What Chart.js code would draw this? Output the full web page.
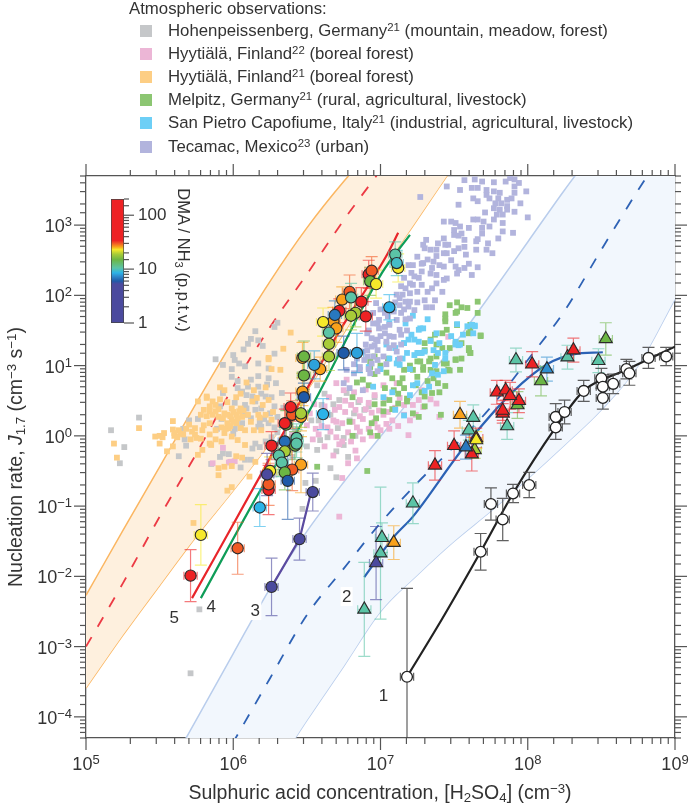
<!DOCTYPE html>
<html>
<head>
<meta charset="utf-8">
<script src="https://cdn.jsdelivr.net/npm/chart.js@4"></script>
<style>
  body { margin: 0; background: #fff; }
  #wrap { position: relative; width: 689px; height: 810px; overflow: hidden; font-family: "Liberation Sans", sans-serif; color: #333; }
  #chart { position: absolute; left: 0; top: 0; }
  #bar { position: absolute; left: 105px; top: 189px; }
  .head { position: absolute; left: 129px; top: -1px; font-size: 16.8px; white-space: nowrap; }
  .row { position: absolute; left: 168px; font-size: 16.8px; white-space: nowrap; line-height: 18px; }
  .swatch { position: absolute; left: 140px; width: 12px; height: 12px; }
  sup { font-size: 68%; line-height: 0; vertical-align: 0.42em; }
  sub { font-size: 68%; line-height: 0; vertical-align: -0.25em; }
  .title { position: absolute; font-size: 19.5px; white-space: nowrap; line-height: 20px; }
  #ytitle { left: 15px; top: 457px; transform: translate(-50%, -50%) rotate(-90deg); }
  #xtitle { left: 380px; top: 792px; transform: translate(-50%, -50%); }
  #bartitle { left: 184px; top: 260px; font-size: 16.5px; transform: translate(-50%, -50%) rotate(90deg); }
</style>
</head>
<body>
<div id="wrap">
  <canvas id="chart" width="689" height="810"></canvas>
  <canvas id="bar" width="90" height="145"></canvas>
  <div class="head">Atmospheric observations:</div>
  <div class="title" id="ytitle">Nucleation rate, <i>J</i><sub>1.7</sub> (cm<sup>−3</sup> s<sup>−1</sup>)</div>
  <div class="title" id="xtitle">Sulphuric acid concentration, [H<sub>2</sub>SO<sub>4</sub>] (cm<sup>−3</sup>)</div>
  <div class="title" id="bartitle">DMA / NH<sub>3</sub> (p.p.t.v.)</div>
</div>
<script>
const siteNames = ["Hohenpeissenberg, Germany", "Hyytiälä, Finland", "Hyytiälä, Finland", "Melpitz, Germany", "San Pietro Capofiume, Italy", "Tecamac, Mexico"];
const siteRefs = ["21", "22", "21", "21", "21", "23"];
const siteNotes = ["(mountain, meadow, forest)", "(boreal forest)", "(boreal forest)", "(rural, agricultural, livestock)", "(industrial, agricultural, livestock)", "(urban)"];
const siteColors = ["#c5c7c9", "#ecb6d6", "#fdce84", "#8cc672", "#6dcff6", "#b2b4dd"];
const legendRows = [31, 53.5, 76.5, 100, 123, 147];

const hohenX = [6.15,6.10,6.07,6.17,6.20,6.17,6.00,6.01,6.04,6.08,5.99,5.88,5.93,5.99,6.03,6.17,6.24,6.28,6.24,6.23,6.29,6.33,6.17,6.03,6.06,6.09,5.93,6.13,6.22,6.15,6.08,6.09,6.01,5.91,6.19,6.28,6.15,6.25,6.30,6.18,6.08,5.92,5.76,5.70,5.66,5.89,6.01,6.05,6.00,6.17,6.19,5.67,5.68,5.63,5.91,5.93,5.97,5.85,6.08,6.12,6.05,6.13,6.15,5.17,5.36,5.26,5.23,6.30,6.28,6.12,6.57,6.47,6.66,6.56,6.49,6.70,6.75,6.75,6.59,6.83,6.72,6.77,6.66,6.60,6.53,6.79,6.71,6.49,6.57,6.45,6.89,6.85,5.77,5.71,6.12,6.19,6.26,6.21,6.24,6.28,6.30,6.26,6.22,6.18,6.10,6.12,6.06,6.34,6.38,6.42,6.36,6.40,6.50,6.62,6.68,6.58,6.64,6.70,6.78,6.82,6.92,6.96,6.30,6.28];
const hohenY = [1.49,1.31,1.23,1.36,1.28,1.03,1.15,1.08,1.03,.99,.95,1.09,1.01,.84,.78,.85,.96,1.17,.82,.73,.75,.61,.70,.68,.63,.58,.61,.56,.56,.49,.44,.39,.47,.42,.39,.42,.37,.32,.27,.20,.30,.24,.24,.22,.10,.10,.10,.11,.03,.13,.13,-.05,-.14,-.29,-.30,-.25,-.26,-.40,-.34,-.34,-.45,-.18,-.11,.08,.26,-.16,-.39,1.61,1.55,1.38,-.20,-1.04,-.46,-.64,-.67,-.59,-.13,-.03,-.06,0,.51,.61,.30,.44,.22,.22,.11,.58,.72,.37,.37,.48,-2.47,-3.38,.80,.60,.55,.24,.18,.12,.05,-.02,-.08,-.16,.70,.25,.18,.40,.25,.10,-.12,-.30,-.15,.60,.45,.22,-.02,-.22,-.30,.32,.42,.55,-.25,-.55];

const pinkX = [6.72,6.74,6.78,6.83,6.86,5.86,5.98,6.01,5.93,5.97,5.99,7.19,7.04,7.40,7.38,7.22,7.28,7.46,7.29,7.26,7.13,7.11,7.02,6.70,6.77,6.75,6.86,6.83,6.92,6.94,6.72,6.69,6.55,6.60,6.50,6.64,6.68,6.74,6.78,6.81,6.88,6.92,6.96,6.99,7.00,7.05,7.08,7.10,6.62,6.68,6.72,6.80,6.88,6.70,6.58,6.65,6.82,6.90,6.96,7.03,7.16,7.20,6.52,6.56,6.62,6.66,6.70,6.76,6.80,6.84,6.86,6.90,6.94,6.98,7.02,7.06,7.12,7.16,7.24,6.74,6.84,6.76,6.60,6.54,6.46,6.40,7.34];
const pinkY = [-1.15,-.60,-.39,-.21,.06,-.39,-.37,-.36,-.17,-.38,-.37,.01,.17,.27,.46,.44,.65,1.41,.41,.51,.54,.75,.72,.75,.80,.65,.51,.37,.47,.33,.41,.37,.45,.30,.15,.12,.22,.18,.05,.20,.24,.10,.20,.36,.08,.34,.22,.40,-.15,-.28,-.12,-.08,-.05,-.02,.02,.55,.62,.66,.58,.52,.30,.22,.32,.10,.42,.06,.20,.34,.44,.12,.28,.38,0,.12,.30,.10,.14,.44,.30,-.08,-.32,.50,.14,-.05,.24,.02,.52];

const hyytX = [5.59,5.36,5.19,5.21,5.47,5.50,5.52,5.53,5.50,5.59,5.63,5.60,5.60,5.64,5.55,5.59,5.70,5.74,5.71,5.75,5.80,5.79,5.80,5.76,5.82,5.84,5.86,5.91,5.91,5.94,5.84,5.88,5.90,5.94,5.99,6.02,6.06,5.99,5.96,6.02,5.97,6.05,5.94,5.99,6.03,6.08,5.84,5.85,5.79,5.76,5.88,5.84,5.90,5.94,5.99,6.02,6.06,5.90,6.15,6.11,6.24,6.26,6.09,6.14,6.22,6.32,6.13,6.16,6.24,6.05,6.10,6.17,6.22,6.26,6.19,6.14,6.08,5.73,5.99,5.96,6.39,6.34,6.24,5.82,5.82,5.86,5.90,5.93,5.96,5.98,6.00,6.03,6.04,6.07,5.92,5.95,5.98,6.00,5.78,5.72,5.74,5.78,5.68,5.66,5.62,5.84,5.88,5.92,6.12,6.18,6.20,6.27,6.02,6.05,5.96,5.88];
const hyytY = [.21,.11,-.11,-.31,-.01,0,-.02,.04,-.11,.09,.08,.04,0,.03,-.22,-.15,.16,.11,-.05,-.03,.37,.08,.15,.49,.54,.42,.49,.52,.69,.65,.35,.35,.27,.32,.39,.30,.27,.23,.18,.18,.11,.11,.04,-.01,-.06,-.13,-.11,-.13,-.20,-.27,.08,.18,-.46,-.44,-.43,-.29,-.31,-.56,-.37,-.58,1.09,.95,.76,.65,.69,.94,.49,.54,.51,.39,.30,.30,.30,.23,.08,.08,.08,-1.24,-.73,-.78,1.47,1.24,1.11,.56,.28,.30,.38,.25,.30,.28,.34,.25,.35,.36,.12,.10,.14,.20,.30,.06,.02,-.04,.10,.02,-.02,.02,-.05,-.08,.20,.26,.44,.34,.55,.60,.48,.44];

const melpitzX = [7.47,7.52,7.55,7.59,7.66,7.66,7.52,7.44,7.44,7.51,7.52,7.45,7.62,7.61,7.68,7.42,7.37,7.34,7.30,7.51,7.55,7.61,7.60,7.51,7.45,7.25,7.34,7.29,6.96,6.93,7.05,7.61,7.60,7.68,7.60,7.61,7.52,7.44,7.51,7.54,7.47,7.38,7.33,7.27,7.29,7.34,7.38,7.43,7.46,7.39,7.44,7.35,7.30,7.25,7.22,7.16,7.13,7.09,7.18,7.03,7.02,7.22,7.26,7.41,7.30,7.06,7.12,7.18,6.93,6.84,6.81,6.79,6.94,6.97,6.81,6.93,6.91,6.57,6.98,6.88,6.92,6.96,7.00,7.04,7.08,7.15,7.20,7.24,7.28,7.32,7.36,7.40,7.12,7.16,7.02,7.08,6.96,7.42,7.47,7.55,7.30,7.26,7.38];
const melpitzY = [1.86,1.90,1.83,1.82,1.91,1.75,1.77,1.73,1.67,1.75,1.58,1.51,1.58,1.51,1.43,1.46,1.44,1.37,1.32,1.32,1.32,1.18,1.25,1.08,1.03,1.06,1.10,.98,1.13,1.06,1.10,1.58,1.46,1.42,1.22,1.18,1.58,1.63,1.09,.94,.93,1.13,1.06,1.06,.94,.94,.92,1.03,.94,.75,.71,.61,.56,.84,.94,.94,.75,.65,.53,.68,.46,.32,.27,.30,.42,.51,.46,.49,.98,.76,.55,.20,.18,.25,0,.05,-.50,-.44,0,.80,.72,.88,1.00,.90,.82,.82,1.00,.72,.62,.78,.82,.62,.60,.68,.35,.38,.45,1.25,1.25,1.10,1.22,1.18,1.30];

const italyX = [7.22,7.32,7.17,7.27,7.21,7.23,7.16,7.18,7.25,7.28,7.38,7.51,7.53,7.59,7.64,7.63,7.52,7.36,7.39,7.44,7.06,7.12,7.13,6.92,7.37,7.26,7.29,7.16,7.19,7.27,7.23,7.12,7.06,7.11,7.54,7.51,7.62,7.64,7.44,7.25,7.30,7.35,7.43,7.10,7.16,7.22,7.33,7.39,7.26,6.95,7.00,7.04,7.10,7.15,7.20,7.30,7.34,7.40,7.02,7.08,7.20,7.48,7.56];
const italyY = [1.71,1.66,1.60,1.53,1.44,1.37,1.32,1.18,1.18,1.18,1.46,1.34,1.29,1.56,1.57,1.46,1.59,1.22,1.18,1.10,1.10,1.08,1.01,.98,1.01,1.51,1.53,1.32,1.37,1.18,1.15,1.08,1.60,1.03,1.30,1.30,1.58,1.56,1.18,.75,.64,.89,.92,.37,.29,.72,.70,.87,1.34,.70,.95,1.30,1.25,1.10,.95,1.20,1.35,1.32,.55,.62,.58,1.42,1.44];

const tecamacX = [7.57,7.64,7.69,7.62,7.66,7.54,7.63,7.66,7.53,7.27,7.45,7.77,7.85,7.88,7.91,7.94,7.91,7.99,7.91,7.72,7.77,7.81,7.72,7.74,7.80,7.86,7.89,7.95,7.78,7.82,7.86,7.77,7.81,7.86,7.91,7.71,7.79,7.83,7.83,8.00,7.66,7.70,7.77,7.63,7.74,7.83,7.90,7.69,7.80,7.43,7.48,7.51,7.54,7.60,7.50,7.55,7.50,7.53,7.69,7.66,7.57,7.65,7.73,7.31,7.29,7.43,7.39,7.44,7.46,7.38,7.34,7.30,7.57,7.53,7.50,7.45,7.43,7.38,7.65,7.72,7.76,7.58,7.25,7.32,7.29,7.22,7.19,7.43,7.40,7.35,7.28,7.34,7.38,7.38,7.45,7.43,7.51,7.53,7.57,7.66,7.52,7.62,7.21,7.23,7.20,7.22,7.17,7.25,7.20,7.15,7.11,7.17,7.20,7.13,7.19,7.23,7.30,7.37,7.31,7.35,7.09,7.14,6.99,7.05,7.11,7.20,7.06,7.13,6.99,7.03,6.94,7.09,7.14,6.96,7.04,7.09,6.98,6.91,6.89,6.86,6.94,7.02,7.11,7.13,6.95,6.97,6.95,6.98,6.91,6.97,6.94,6.91,6.98,6.86,6.93,6.77,6.82,6.75,6.79,6.88,6.92,6.95,7.00,7.03,7.06,7.10,7.13,7.16,7.00,7.03,7.06,6.98,6.90,6.88,6.84,6.82,6.92,6.98,7.04,7.06,7.14,7.18,7.17,7.25,7.28,7.26,7.16,7.14,7.28,7.36,7.48,7.60,7.35,7.42,7.32];
const tecamacY = [3.64,3.65,3.62,3.53,3.53,3.50,3.38,3.34,3.29,3.40,3.55,3.61,3.62,3.67,3.65,3.60,3.55,3.48,3.46,3.50,3.48,3.46,3.43,3.38,3.38,3.36,3.38,3.31,3.31,3.31,3.27,3.24,3.22,3.22,3.19,3.18,3.15,3.15,3.03,3.11,3.08,3.05,3.08,3.08,2.98,2.91,2.89,2.96,2.81,3.05,3.05,3.03,2.98,2.96,2.93,2.88,2.86,2.85,2.88,2.80,2.79,2.77,2.74,2.79,2.72,2.81,2.74,2.72,2.72,2.65,2.65,2.67,2.69,2.67,2.63,2.60,2.60,2.56,2.65,2.65,2.60,2.58,2.55,2.51,2.46,2.43,2.43,2.41,2.43,2.39,2.34,2.31,2.29,2.17,2.24,2.22,2.41,2.36,2.39,2.40,2.31,2.29,2.32,2.27,2.17,2.15,2.10,2.05,2.03,2.01,2.01,1.91,1.91,1.86,1.84,1.79,1.93,1.93,1.83,1.83,1.77,1.75,1.65,1.70,1.65,1.67,1.58,1.51,1.53,1.46,1.39,1.41,1.44,1.29,1.34,1.29,1.22,1.22,1.08,.98,1.03,1.13,1.20,1.10,1.13,1.89,1.75,1.60,1.46,1.37,1.27,1.13,1.08,.94,.89,.94,.89,.75,.68,.65,1.50,1.60,1.80,1.75,1.84,1.90,1.96,1.80,1.42,1.55,1.42,1.35,1.30,1.20,1.10,1.02,.95,.92,1.02,1.25,1.30,1.50,1.66,1.90,2.15,2.25,2.25,2.13,2.45,2.48,2.50,2.45,2.10,2.05,2.05];

// shaded ranges around the two parametrisations, and the fitted curves
const orangeBandX = [5,5.25,5.5,5.75,6,6.25,6.5,6.75,7,7.25,7.5,7.6];
const orangeUpper = [-2.27,-1.35,-.44,.47,1.36,2.20,2.96,3.62,4.2,4.75,5.25,5.45];
const orangeLower = [-3.59,-2.84,-2.13,-1.43,-.78,-.10,.64,1.46,2.30,3.08,3.85,4.16];
const redDashX = [5,5.25,5.5,5.75,6,6.25,6.5,6.75,7];
const redDashY = [-3.0,-2.10,-1.15,-.25,.70,1.55,2.30,3.07,3.78];

const blueBandX = [5.6,5.68,6,6.25,6.5,6.75,7,7.25,7.5,7.75,8,8.25,8.5,8.75,9];
const blueUpper = [-4.6,-4.30,-3.10,-2.17,-1.36,-.66,-.01,.64,1.30,2.02,2.76,3.5,4.2,4.9,5.6];
const blueLower = [-6.8,-6.5,-5.6,-4.85,-4.05,-3.28,-2.5,-1.98,-1.5,-1.07,-.61,-.13,.37,1.0,1.95];
const blueDashY = [-5.8,-5.5,-4.36,-3.45,-2.55,-1.89,-1.24,-.67,-.15,.41,1.08,1.78,2.65,3.50,4.3];

const line1X = [7.18,7.42,7.68,7.90,8.19,8.38,8.67,9];
const line1Y = [-3.43,-2.60,-1.65,-.82,.12,.64,.94,1.27];
const line2X = [6.89,7.09,7.22,7.56,7.90,8.14,8.31,8.51];
const line2Y = [-2.01,-1.44,-1.15,-.18,.63,1.03,1.16,1.19];
const line3X = [6.26,6.45,6.53];
const line3Y = [-2.15,-1.47,-.79];
const line4X = [5.78,6.18,6.52,7.01,7.20];
const line4Y = [-2.31,-.79,.37,2.32,2.86];
const line5X = [5.72,6.18,6.69,7.05,7.12];
const line5Y = [-2.31,-.58,1.38,2.60,2.89];

// chamber runs, circles: with ammonia and dimethylamine
const circleX = [7.12,7.10,7.11,6.92,6.94,6.93,6.97,6.74,6.79,6.80,6.87,6.72,6.68,6.70,6.69,6.61,6.83,6.80,6.90,7.06,6.65,6.65,6.65,6.75,6.84,6.47,6.48,6.59,6.55,6.48,6.47,6.48,6.40,6.39,6.46,6.46,6.61,6.36,6.35,6.26,6.42,6.43,6.43,6.35,6.35,6.31,6.33,6.46,6.40,6.35,6.25,6.24,6.24,6.23,6.37,6.54,6.18,5.78,5.71,6.03,6.26,6.45];
const circleY = [2.39,2.58,2.46,2.30,2.35,2.20,2.16,1.94,2.05,1.97,1.91,1.78,1.63,1.53,1.72,1.62,1.75,1.71,1.70,1.83,1.47,1.31,1.13,1.18,1.18,1.11,1.13,.95,1.01,.86,.63,.55,.30,.41,.27,.32,.31,.16,.18,-.14,-.14,-.03,-.11,-.08,-.22,-.28,-.38,-.41,-.48,-.52,-.50,-.77,-.69,-.55,-.64,-.80,-1.02,-1.41,-1.99,-1.60,-2.15,-1.47];
const circleDma = [23,10.5,9.5,60,30,15,23,26,30,10.5,60,60,26,26,6.8,23,19,19,60,8.5,10.5,19,19,6,8,26,15,26,8,15,26,6,30,60,26,19,8.5,15,60,60,15,10.5,10.5,6.5,19,10.5,10.5,26,30,15,23,60,30,2,6,2,8.5,23,60,30,2,2];
const circleErr = [.20,.18,.18,.2,.2,.2,.2,.18,.24,.2,.2,.17,.2,.2,.2,.2,.2,.2,.21,.18,.2,.2,.2,.24,.28,.22,.22,.17,.2,.2,.2,.2,.2,.2,.2,.2,.22,.2,.2,.2,.2,.2,.2,.2,.2,.2,.2,.4,.3,.25,.2,.35,.3,.3,.55,.27,.27,.43,.37,.37,.41,.30];

// triangles: with ammonia
const triX = [8.53,8.27,8.31,8.48,7.92,8.03,8.13,8.09,7.79,7.85,7.93,7.94,7.88,7.83,7.83,7.86,7.54,7.63,7.60,7.64,7.65,7.65,7.50,7.62,7.58,7.37,7.22,7.09,7.01,7.00,6.97,6.89];
const triY = [1.38,1.12,1.22,1.07,1.08,1.02,.95,.78,.62,.65,.44,.50,.57,.32,.36,.14,.30,.26,.08,-.20,-.03,-.06,-.14,-.26,-.16,-.42,-.96,-1.52,-1.45,-1.67,-1.81,-2.47];
const triDma = [15,10.5,60,10.5,10.5,60,7.5,15,60,60,15,60,60,60,60,10.5,26,10.5,10.5,19,60,23,60,60,6.8,60,10.5,26,10.5,10.5,2,10.5];
const triErr = [.23,.17,.17,.17,.17,.18,.17,.21,.17,.14,.19,.17,.19,.14,.14,.19,.19,.18,.14,.12,.14,.12,.21,.24,.17,.21,.29,.24,.21,.94,.52,.67];

// white circles: sulphuric acid and water only
const whiteX = [7.18,7.68,7.83,7.75,7.90,8.01,8.19,8.19,8.25,8.38,8.50,8.51,8.51,8.58,8.67,8.69,8.82,8.94];
const whiteY = [-3.43,-1.65,-1.19,-.97,-.82,-.70,.12,.27,.34,.64,.82,.70,.54,.74,.95,.89,1.11,1.13];
const whiteErrUp = [1.26,.26,.30,.23,.13,.18,.17,.19,.17,.15,.14,.17,.16,.14,.14,.17,.15,.13];
const whiteErrDown = [3,.26,.30,.23,.13,.18,.17,.19,.17,.15,.14,.17,.16,.14,.14,.17,.15,.13];

const seriesNumbers = ["1","2","3","4","5"];
const numberX = [7.02,6.77,6.15,5.85,5.60];
const numberY = [-3.69,-2.28,-2.48,-2.42,-2.58];

// colour bar
const dmaStops = [1,5.3,6,7.5,8.5,10.5,15,19,23,26,30,34,200];
const dmaColors = ["#4b4a9e","#4b4a9e","#1f5aa8","#2f8fd0","#2bb3e8","#5bc4a6","#6cb644","#a8cc38","#f6e92a","#f9a11b","#f15a24","#ed2224","#ed2224"];

const pts = (xs, ys) => xs.map((v, i) => ({ x: 10 ** v, y: 10 ** ys[i] }));

function dmaColor(v) {
  let i = 0;
  while (i < dmaStops.length - 2 && v > dmaStops[i + 1]) i++;
  const f = (Math.log(v) - Math.log(dmaStops[i])) / (Math.log(dmaStops[i + 1]) - Math.log(dmaStops[i]));
  const hex = (c) => [1, 3, 5].map((k) => parseInt(c.substr(k, 2), 16));
  const a = hex(dmaColors[i]), b = hex(dmaColors[i + 1]);
  const m = a.map((c, k) => Math.round(c + (b[k] - c) * Math.min(1, Math.max(0, f))));
  return `rgb(${m[0]},${m[1]},${m[2]})`;
}

// html legend, the superscripts don't work in the built-in one
const wrap = document.getElementById("wrap");
siteNames.forEach((name, i) => {
  const sw = document.createElement("div");
  sw.className = "swatch";
  sw.style.top = legendRows[i] - 6 + "px";
  sw.style.background = siteColors[i];
  wrap.appendChild(sw);
  const row = document.createElement("div");
  row.className = "row";
  row.style.top = legendRows[i] - 9 + "px";
  row.innerHTML = `${name}<sup>${siteRefs[i]}</sup> ${siteNotes[i]}`;
  wrap.appendChild(row);
});

const axisColor = "#555";
const textColor = "#333";
const family = "'Liberation Sans', sans-serif";
const isDecade = (v) => Math.abs(Math.log10(v) - Math.round(Math.log10(v))) < 1e-9;

// chart.js has one tick length per axis, here decades are long and the rest short
const tickMarks = {
  id: "tickMarks",
  afterDraw(chart) {
    const { ctx } = chart;
    const lengths = chart.options.plugins.tickMarks;
    ctx.save();
    ctx.strokeStyle = axisColor;
    ctx.lineWidth = 1.2;
    Object.values(chart.scales).forEach((s) => {
      if (s.type !== "logarithmic") return;
      s.ticks.forEach((t) => {
        const p = s.getPixelForValue(t.value);
        const n = isDecade(t.value) ? lengths.major : lengths.minor;
        ctx.beginPath();
        if (s.position === "left") { ctx.moveTo(s.right, p); ctx.lineTo(s.right - n, p); }
        if (s.position === "right") { ctx.moveTo(s.left, p); ctx.lineTo(s.left + n, p); }
        if (s.position === "top") { ctx.moveTo(p, s.bottom); ctx.lineTo(p, s.bottom - n); }
        if (s.position === "bottom") { ctx.moveTo(p, s.top); ctx.lineTo(p, s.top + n); }
        ctx.stroke();
      });
    });
    ctx.restore();
  },
};

// 10 with a raised exponent, tick callbacks can only give one font size
const powerLabels = {
  id: "powerLabels",
  afterDraw(chart) {
    const { ctx, scales: { x, y } } = chart;
    const big = `18px ${family}`, small = `13px ${family}`;
    ctx.save();
    ctx.fillStyle = textColor;
    ctx.textBaseline = "alphabetic";
    ctx.textAlign = "left";
    x.ticks.filter((t) => isDecade(t.value)).forEach((t) => {
      const e = String(Math.round(Math.log10(t.value)));
      ctx.font = big;
      const w = ctx.measureText("10").width;
      ctx.font = small;
      const we = ctx.measureText(e).width;
      const left = x.getPixelForValue(t.value) - (w + we) / 2;
      ctx.font = big;
      ctx.fillText("10", left, 770);
      ctx.font = small;
      ctx.fillText(e, left + w, 764);
    });
    y.ticks.filter((t) => isDecade(t.value)).forEach((t) => {
      const e = String(Math.round(Math.log10(t.value))).replace("-", "−");
      const p = y.getPixelForValue(t.value);
      ctx.font = small;
      const we = ctx.measureText(e).width;
      ctx.fillText(e, 72 - we, p + 1);
      ctx.font = big;
      ctx.fillText("10", 72 - we - ctx.measureText("10").width, p + 7);
    });
    ctx.restore();
  },
};

const errorBars = {
  id: "errorBars",
  beforeDatasetDraw(chart, { index }) {
    const ds = chart.data.datasets[index];
    if (!ds.errUp) return;
    const { ctx, chartArea: a, scales: { x, y } } = chart;
    ctx.save();
    ctx.beginPath();
    ctx.rect(a.left, a.top, a.right - a.left, a.bottom - a.top);
    ctx.clip();
    ctx.globalAlpha = ds.errAlpha;
    ctx.lineWidth = 1.2;
    ds.data.forEach((p, i) => {
      const px = x.getPixelForValue(p.x), py = y.getPixelForValue(p.y);
      const top = y.getPixelForValue(p.y * 10 ** ds.errUp[i]);
      const bot = y.getPixelForValue(p.y / 10 ** ds.errDown[i]);
      const l = x.getPixelForValue(p.x / 10 ** ds.errX);
      const r = x.getPixelForValue(p.x * 10 ** ds.errX);
      ctx.strokeStyle = ds.errColor ? ds.errColor : ds.pointBackgroundColor[i];
      ctx.beginPath();
      ctx.moveTo(px, top); ctx.lineTo(px, bot);
      ctx.moveTo(px - 6, top); ctx.lineTo(px + 6, top);
      ctx.moveTo(px - 6, bot); ctx.lineTo(px + 6, bot);
      ctx.moveTo(l, py); ctx.lineTo(r, py);
      ctx.moveTo(l, py - 4); ctx.lineTo(l, py + 4);
      ctx.moveTo(r, py - 4); ctx.lineTo(r, py + 4);
      ctx.stroke();
    });
    ctx.restore();
  },
};

const seriesLabels = {
  id: "seriesLabels",
  afterDatasetsDraw(chart) {
    const { ctx, scales: { x, y } } = chart;
    ctx.save();
    ctx.font = `17px ${family}`;
    ctx.textAlign = "center";
    ctx.textBaseline = "middle";
    seriesNumbers.forEach((n, i) => {
      const px = x.getPixelForValue(10 ** numberX[i]), py = y.getPixelForValue(10 ** numberY[i]);
      ctx.fillStyle = "#fff";
      ctx.fillRect(px - 6, py - 9, 12, 19);
      ctx.fillStyle = textColor;
      ctx.fillText(n, px, py + 1);
    });
    ctx.restore();
  },
};

const squares = (xs, ys, color, order) => ({
  data: pts(xs, ys), order, showLine: false, pointStyle: "rect", pointRadius: 4.1,
  pointBackgroundColor: color, pointBorderColor: color, pointBorderWidth: 0,
});
const curve = (xs, ys, color, width, order, extra) => Object.assign({
  data: pts(xs, ys), order, showLine: true, pointRadius: 0, borderColor: color, borderWidth: width,
  cubicInterpolationMode: "monotone", fill: false,
}, extra);
const markers = (xs, ys, dma, err, style, radius, order) => ({
  data: pts(xs, ys), order, showLine: false, pointStyle: style, pointRadius: radius,
  pointBackgroundColor: dma.map(dmaColor), pointBorderColor: "#2b2b2b", pointBorderWidth: 1.1,
  errUp: err, errDown: err, errX: 0.045, errAlpha: 0.6,
});

const datasets = [
  curve(orangeBandX, orangeUpper, "#fbb661", 1.5, 30, { fill: "+1", backgroundColor: "#fef0de" }),
  curve(orangeBandX, orangeLower, "#fbb661", 1.5, 30),
  curve(blueBandX, blueUpper, "#b9cdec", 1.5, 30, { fill: "+1", backgroundColor: "#f2f7fd" }),
  curve(blueBandX, blueLower, "#b9cdec", 1.5, 30),
  curve(redDashX, redDashY, "#ec3a44", 1.8, 29, { borderDash: [11, 12] }),
  curve(blueBandX, blueDashY, "#2e62b5", 1.8, 29, { borderDash: [11, 12] }),
  squares(hohenX, hohenY, siteColors[0], 26),
  squares(pinkX, pinkY, siteColors[1], 25),
  squares(hyytX, hyytY, siteColors[2], 24),
  squares(melpitzX, melpitzY, siteColors[3], 23),
  squares(italyX, italyY, siteColors[4], 22),
  squares(tecamacX, tecamacY, siteColors[5], 21),
  curve(line5X, line5Y, "#e8252a", 2.2, 10),
  curve(line4X, line4Y, "#0f9d58", 2.2, 10),
  curve(line3X, line3Y, "#5b4ba0", 2.2, 10, { cubicInterpolationMode: "default", tension: 0 }),
  curve(line2X, line2Y, "#2b62b5", 2.2, 10),
  curve(line1X, line1Y, "#222", 2.2, 10),
  markers(triX, triY, triDma, triErr, "triangle", 7.5, 3),
  markers(circleX, circleY, circleDma, circleErr, "circle", 5.6, 2),
  {
    data: pts(whiteX, whiteY), order: 1, showLine: false, pointStyle: "circle", pointRadius: 5.4,
    pointBackgroundColor: "#fff", pointBorderColor: "#222", pointBorderWidth: 1.3,
    errUp: whiteErrUp, errDown: whiteErrDown, errX: 0.045, errAlpha: 0.85, errColor: "#444",
  },
];

const logAxis = (position, min, max, size) => ({
  type: "logarithmic", position, min, max,
  grid: { display: false, drawTicks: false },
  border: { color: axisColor, width: 1.3 },
  ticks: { display: false, autoSkip: false },
  afterFit(s) {
    if (s.isHorizontal()) { s.height = size; s.paddingLeft = 0; s.paddingRight = 0; }
    else { s.width = size; s.paddingTop = 0; s.paddingBottom = 0; }
  },
});

new Chart(document.getElementById("chart"), {
  type: "scatter",
  data: { datasets },
  plugins: [tickMarks, powerLabels, errorBars, seriesLabels],
  options: {
    responsive: false,
    animation: false,
    layout: { padding: 0 },
    elements: { line: { capBezierPoints: false } },
    plugins: { legend: { display: false }, tooltip: { enabled: false }, tickMarks: { major: 12, minor: 6 } },
    scales: {
      x: logAxis("bottom", 1e5, 1e9, 72),
      y: logAxis("left", 5e-5, 5e3, 86),
      x2: logAxis("top", 1e5, 1e9, 176),
      y2: logAxis("right", 5e-5, 5e3, 14),
    },
  },
});

// colour scale for DMA, separate little chart on top of the main one
new Chart(document.getElementById("bar"), {
  type: "bar",
  data: {
    labels: [""],
    datasets: [{
      data: [[dmaStops[0], dmaStops[dmaStops.length - 1]]],
      barPercentage: 1, categoryPercentage: 1,
      borderColor: "#444", borderWidth: 1, borderSkipped: false,
      backgroundColor(c) {
        if (!c.chart.chartArea) return dmaColors[0];
        const s = c.chart.scales.y;
        const g = c.chart.ctx.createLinearGradient(0, s.getPixelForValue(1), 0, s.getPixelForValue(200));
        const span = Math.log10(200);
        dmaStops.forEach((v, i) => g.addColorStop(Math.log10(v) / span, dmaColors[i]));
        return g;
      },
    }],
  },
  plugins: [tickMarks],
  options: {
    responsive: false,
    animation: false,
    layout: { padding: { left: 6, top: 10, bottom: 11, right: 0 } },
    plugins: { legend: { display: false }, tooltip: { enabled: false }, tickMarks: { major: 10, minor: 5 } },
    scales: {
      x: { display: false },
      y: {
        type: "logarithmic", position: "right", min: 1, max: 200,
        grid: { display: false, drawTicks: false },
        border: { display: false },
        ticks: {
          autoSkip: false, padding: 14, color: textColor, font: { family, size: 17 },
          callback: (v) => isDecade(v) ? String(v) : "",
        },
        afterFit(s) { s.width = 71; s.paddingTop = 0; s.paddingBottom = 0; },
      },
    },
  },
});
</script>
</body>
</html>
